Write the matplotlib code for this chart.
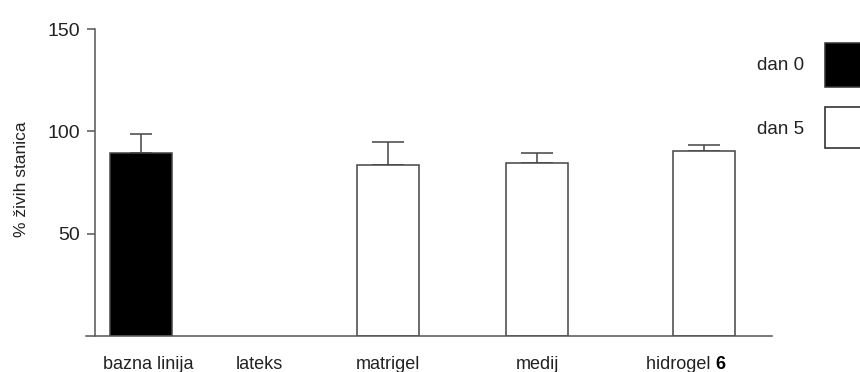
import numpy as np
import matplotlib
matplotlib.use("Agg")
import matplotlib.pyplot as plt
from matplotlib.patches import Rectangle

plt.rcParams['font.family'] = ['Liberation Sans', 'DejaVu Sans']

# data
categories = ['bazna linija', 'lateks', 'matrigel', 'medij', 'hidrogel']
means = [89.5, np.nan, 83.5, 84.3, 90.5]
sem = [9.1, np.nan, 11.4, 4.9, 2.8]
day = ['dan 0', None, 'dan 5', 'dan 5', 'dan 5']

xpos = [0, 1, 2, 3.21, 4.56]
label_shift = [0.06, -0.04, 0, 0, 0.02]
unit = 123.5  # px per x unit
W, H = 860, 372

fig = plt.figure(figsize=(W / 100, H / 100), dpi=100)
ax_left_px, ax_right_px = 86, 772
ax_bottom_px, ax_top_px = 336, 29
ax = fig.add_axes([ax_left_px / W, (H - ax_bottom_px) / H,
                   (ax_right_px - ax_left_px) / W, (ax_bottom_px - ax_top_px) / H])
ax.set_xlim((ax_left_px - 141) / unit, (ax_right_px - 141) / unit)
ax.set_ylim(0, 150)

grey = '#555555'
txt = '#222222'
bw = 62 / unit

for x, m, e, d in zip(xpos, means, sem, day):
    if np.isnan(m):
        continue
    fc = 'black' if d == 'dan 0' else 'white'
    ax.bar(x, m, width=bw, color=fc, edgecolor='#444444', linewidth=1.1, zorder=2)
    cap = 8 if d == 'dan 0' else 11.5
    ax.errorbar(x, m, yerr=[[0], [e]], fmt='none', ecolor='#444444',
                elinewidth=1.1, capsize=cap, capthick=1.1, zorder=1)

for s in ['top', 'right']:
    ax.spines[s].set_visible(False)
ax.spines['left'].set_position(('data', (95 - 141) / unit))
for s in ['left', 'bottom']:
    ax.spines[s].set_color(grey)
    ax.spines[s].set_linewidth(1.1)

ax.set_yticks([50, 100, 150])
ax.tick_params(axis='y', length=6, width=1.1, color=grey, labelsize=14,
               labelcolor=txt, pad=5)
ax.set_xticks(xpos)
ax.set_xticklabels([''] * len(xpos))
ax.tick_params(axis='x', length=0)

# x labels
for lbl, x, sh in zip(categories, xpos, label_shift):
    xd = x + sh
    if lbl == 'hidrogel':
        ax.annotate('hidrogel ', xy=(xd + 0.07, 0), xytext=(0, -14.5),
                    textcoords='offset points', ha='right', va='top',
                    fontsize=13, color=txt, annotation_clip=False)
        ax.annotate('6', xy=(xd + 0.07, 0), xytext=(0, -14.5),
                    textcoords='offset points', ha='left', va='top',
                    fontsize=13, fontweight='bold', color='black',
                    annotation_clip=False)
    else:
        ax.annotate(lbl, xy=(xd, 0), xytext=(0, -14.5), textcoords='offset points',
                    ha='center', va='top', fontsize=13, color=txt,
                    annotation_clip=False)

ax.set_ylabel('% živih stanica', fontsize=12.5, color=txt)
ax.yaxis.set_label_coords((29 - ax_left_px) / (ax_right_px - ax_left_px), 0.51)

# legend drawn by hand, boxes cut at right edge like the reference
fig.text(804 / W, 1 - 65 / H, 'dan 0', ha='right', va='center', fontsize=13.5, color=txt)
fig.text(804 / W, 1 - 130 / H, 'dan 5', ha='right', va='center', fontsize=13.5, color=txt)
fig.patches.append(Rectangle((825 / W, 1 - 87 / H), 60 / W, 44 / H, transform=fig.transFigure,
                             facecolor='black', edgecolor='#333333', lw=1.1))
fig.patches.append(Rectangle((825 / W, 1 - 148 / H), 60 / W, 41 / H, transform=fig.transFigure,
                             facecolor='white', edgecolor='#333333', lw=1.2))

fig.savefig('out.png', dpi=100)
